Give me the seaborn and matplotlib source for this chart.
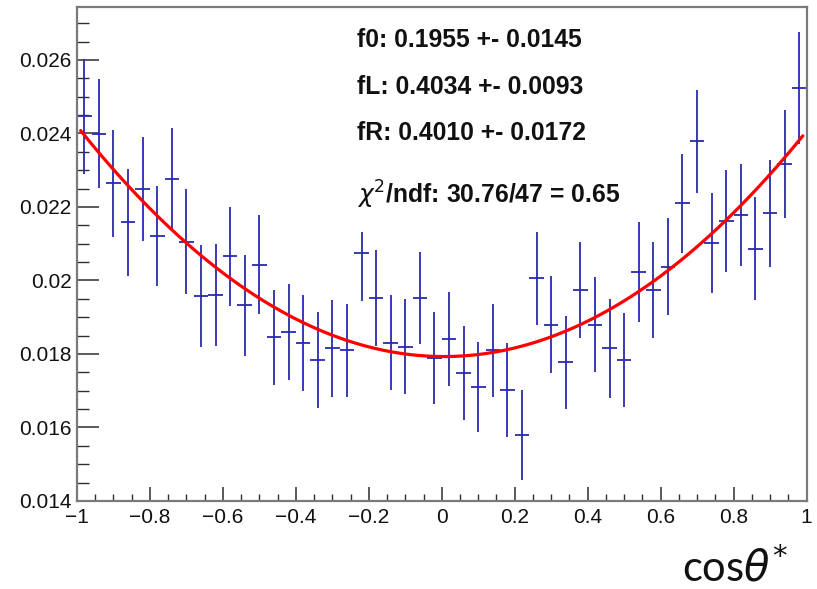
import numpy as np
import pandas as pd
import matplotlib
matplotlib.use("Agg")
import matplotlib.pyplot as plt
import seaborn as sns
from matplotlib.ticker import MultipleLocator, FixedLocator, FixedFormatter
from matplotlib.patches import Rectangle

# ---------------- data ----------------
bin_edges = np.linspace(-1.0, 1.0, 51)
bin_centers = 0.5 * (bin_edges[:-1] + bin_edges[1:])
half_width = 0.02

frac_values = [0.02447, 0.02399, 0.02264, 0.02158, 0.02249, 0.02120, 0.02277, 0.02106, 0.01957, 0.01961,
               0.02066, 0.01932, 0.02043, 0.01845, 0.01860, 0.01830, 0.01783, 0.01815, 0.01810, 0.02075,
               0.01952, 0.01831, 0.01820, 0.01952, 0.01788, 0.01840, 0.01748, 0.01710, 0.01810, 0.01702,
               0.01580, 0.02008, 0.01880, 0.01777, 0.01974, 0.01880, 0.01815, 0.01783, 0.02023, 0.01974,
               0.02038, 0.02210, 0.02379, 0.02101, 0.02162, 0.02178, 0.02086, 0.02183, 0.02317, 0.02523]

frac_errors = [0.00156, 0.00148, 0.00146, 0.00145, 0.00142, 0.00136, 0.00139, 0.00144, 0.00139, 0.00139,
               0.00135, 0.00138, 0.00134, 0.00130, 0.00131, 0.00130, 0.00130, 0.00131, 0.00127, 0.00131,
               0.00130, 0.00129, 0.00129, 0.00126, 0.00125, 0.00128, 0.00127, 0.00123, 0.00127, 0.00128,
               0.00122, 0.00128, 0.00131, 0.00126, 0.00131, 0.00129, 0.00134, 0.00128, 0.00135, 0.00131,
               0.00131, 0.00134, 0.00140, 0.00136, 0.00139, 0.00139, 0.00140, 0.00145, 0.00148, 0.00152]

# fit parameters (as printed on the chart)
f0, fL, fR = 0.1955, 0.4034, 0.4010
fit_range = (-0.99, 0.99)

x_tick_values = [-1, -0.8, -0.6, -0.4, -0.2, 0, 0.2, 0.4, 0.6, 0.8, 1]
x_tick_labels = ["\u22121", "\u22120.8", "\u22120.6", "\u22120.4", "\u22120.2", "0",
                 "0.2", "0.4", "0.6", "0.8", "1"]
y_tick_values = [0.014, 0.016, 0.018, 0.020, 0.022, 0.024, 0.026]
y_tick_labels = ["0.014", "0.016", "0.018", "0.02", "0.022", "0.024", "0.026"]

text_lines = ["f0: 0.1955 +- 0.0145",
              "fL: 0.4034 +- 0.0093",
              "fR: 0.4010 +- 0.0172",
              r"$\chi^{2}$/ndf: 30.76/47 = 0.65"]

# ---------------- style ----------------
sns.set_theme(style="white")
plt.rcParams["font.family"] = ["Liberation Sans", "DejaVu Sans"]
plt.rcParams["mathtext.fontset"] = "dejavusans"

W, H = 817, 589
fig = plt.figure(figsize=(W / 100, H / 100), dpi=100)
ax = fig.add_axes([77 / W, 1 - 501 / H, (806.5 - 77) / W, (501 - 7) / H])

df = pd.DataFrame({"cos": bin_centers, "frac": frac_values, "err": frac_errors})
ax.errorbar(df["cos"], df["frac"], yerr=df["err"], xerr=half_width, fmt="none",
            ecolor="#2a2aae", elinewidth=1.3, capsize=0, zorder=2)

# fit model curve
xs = np.linspace(fit_range[0], fit_range[1], 300)
bw = 2 * half_width
ys = bw * (f0 * 0.75 * (1 - xs ** 2) + fL * 0.375 * (1 - xs) ** 2 + fR * 0.375 * (1 + xs) ** 2)
sns.lineplot(x=xs, y=ys, color="#ff0000", linewidth=2.3, ax=ax, zorder=4, sort=False)

# white text pave (covers the error bars beneath it)
ax.add_patch(Rectangle((-0.27, 0.02133), 0.79, 0.0075, facecolor="white",
                       edgecolor="none", zorder=3))

ax.set_xlim(-1, 1)
ax.set_ylim(0.014, 0.027442)
ax.set_xlabel("")
ax.set_ylabel("")

ax.xaxis.set_major_locator(FixedLocator(x_tick_values))
ax.xaxis.set_major_formatter(FixedFormatter(x_tick_labels))
ax.xaxis.set_minor_locator(MultipleLocator(0.05))
ax.yaxis.set_major_locator(FixedLocator(y_tick_values))
ax.yaxis.set_major_formatter(FixedFormatter(y_tick_labels))
ax.yaxis.set_minor_locator(MultipleLocator(0.0005))

tick_col = "#2e2e2e"
ax.tick_params(axis="y", which="major", direction="in", length=15.8, width=1.1,
               color=tick_col, labelsize=15, pad=4, left=True, right=False, labelcolor="#111111")
ax.tick_params(axis="y", which="minor", direction="in", length=8.4, width=1.0,
               color=tick_col, left=True, right=False)
ax.tick_params(axis="x", which="major", direction="in", length=10.3, width=1.1,
               color=tick_col, labelsize=15, pad=5, bottom=True, top=False, labelcolor="#111111")
ax.tick_params(axis="x", which="minor", direction="in", length=5, width=1.0,
               color=tick_col, bottom=True, top=False)

for side in ["left", "bottom", "top", "right"]:
    ax.spines[side].set_visible(True)
    ax.spines[side].set_color("#7a7a7a")
    ax.spines[side].set_linewidth(1.6)
    ax.spines[side].set_zorder(6)

# fit result texts
baselines = [47.3, 94, 140, 204]
for txt, yb in zip(text_lines, baselines):
    fig.text(357 / W, 1 - yb / H, txt, fontsize=17.8, fontweight="bold",
             color="#111111", ha="left", va="baseline", zorder=10)

# x-axis title (placed at bottom right, as in the slide)
fig.text(682 / W, 1 - 582 / H, r"cos$\theta^{*}$", fontsize=30, color="#111111",
         ha="left", va="baseline", family=["Lato", "DejaVu Sans"])

fig.savefig("out.png", dpi=100)
